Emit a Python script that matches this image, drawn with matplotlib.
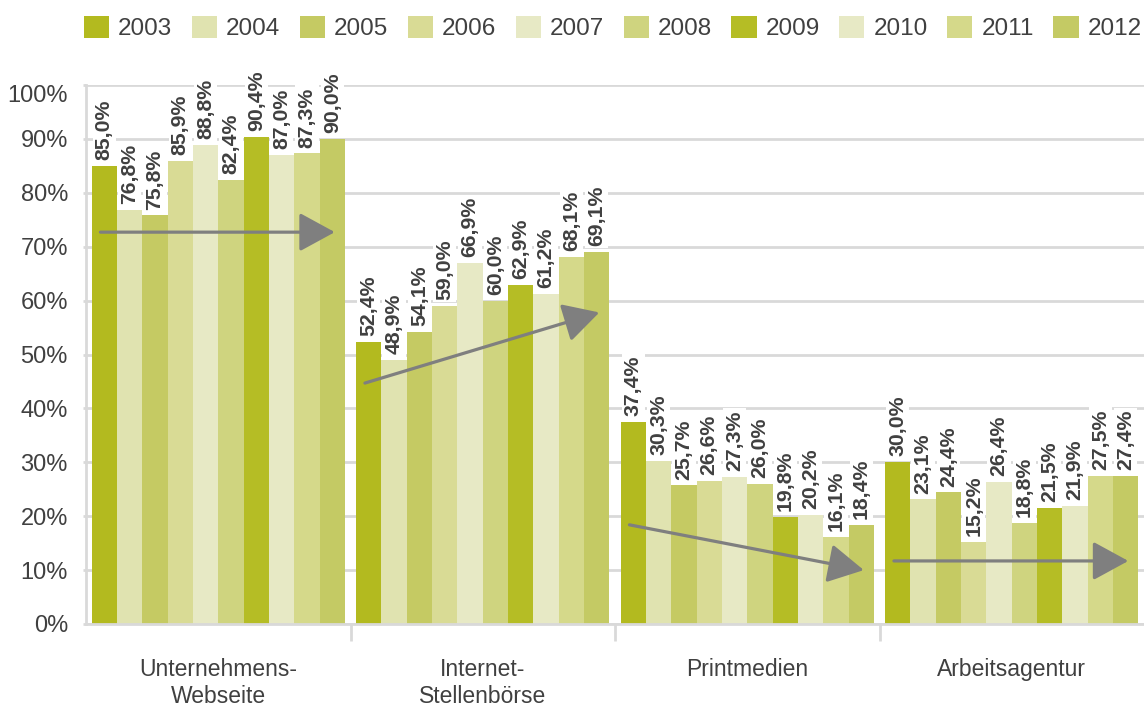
import matplotlib
matplotlib.use("Agg")
import matplotlib.pyplot as plt
import numpy as np

# Kanäle der Stellenausschreibung, Anteil der Unternehmen 2003-2012
categories = ["Unternehmens-\nWebseite", "Internet-\nStellenbörse", "Printmedien", "Arbeitsagentur"]
years = ["2003", "2004", "2005", "2006", "2007", "2008", "2009", "2010", "2011", "2012"]

webseite = [85.0, 76.8, 75.8, 85.9, 88.8, 82.4, 90.4, 87.0, 87.3, 90.0]
stellenboerse = [52.4, 48.9, 54.1, 59.0, 66.9, 60.0, 62.9, 61.2, 68.1, 69.1]
printmedien = [37.4, 30.3, 25.7, 26.6, 27.3, 26.0, 19.8, 20.2, 16.1, 18.4]
arbeitsagentur = [30.0, 23.1, 24.4, 15.2, 26.4, 18.8, 21.5, 21.9, 27.5, 27.4]

# trend arrows per group: value at start / end
trend_start = [72.7, 44.7, 18.4, 11.7]
trend_end = [72.7, 57.8, 10.0, 11.7]

yticks = list(range(0, 101, 10))

colors = ["#b3ba1f", "#e0e3b0", "#c5ca63", "#d9db95", "#e7e9c5",
          "#cfd47f", "#b5bd25", "#e7e9c5", "#d5d98a", "#c4ca64"]

values = np.array([webseite, stellenboerse, printmedien, arbeitsagentur])
textcol = "#404040"
gridcol = "#d9d9d9"

plt.rcParams['font.family'] = ['Liberation Sans', 'DejaVu Sans']

fig = plt.figure(figsize=(11.44, 7.06), dpi=100)
ax = fig.add_axes([86/1144, 1 - 624/706, 1 - 86/1144, 539/706])

n = len(years)
bw = 0.0958
x = np.arange(len(categories))
offsets = (np.arange(n) - (n - 1) / 2) * bw

handles = []
for j in range(n):
    bars = ax.bar(x + offsets[j], values[:, j], width=bw, color=colors[j],
                  label=years[j], zorder=2)
    handles.append(bars)
    for xi, v in zip(x + offsets[j], values[:, j]):
        ax.text(xi, v + 1.1, f"{v:.1f}%".replace(".", ","), rotation=90,
                ha="center", va="bottom", fontsize=15.3, fontweight="bold",
                color=textcol, zorder=3,
                bbox=dict(facecolor="white", edgecolor="none", pad=1.5))

# trend arrows
for i in range(len(categories)):
    x0 = x[i] + offsets[0] - bw * 0.15
    x1 = x[i] + offsets[-1] + bw * 0.1
    ax.annotate("", xy=(x1, trend_end[i]), xytext=(x0, trend_start[i]),
                arrowprops=dict(arrowstyle="-|>,head_length=1.1,head_width=0.6",
                                mutation_scale=20, color="#7f7f7f", lw=2.3,
                                shrinkA=0, shrinkB=0),
                zorder=4)

ax.set_xlim(-0.5, len(categories) - 0.5)
ax.set_ylim(0, 100)
ax.set_yticks(yticks)
# the top label sits a bit lower in the original, drawn separately below
ax.set_yticklabels([f"{v}%" if v < 100 else "" for v in yticks])
ax.annotate(f"{yticks[-1]}%", xy=(0, yticks[-1]),
            xycoords=("axes fraction", "data"), xytext=(-18, -11),
            textcoords="offset pixels", ha="right", va="center",
            fontsize=17, color=textcol)
ax.yaxis.grid(True, color=gridcol, lw=2, zorder=0)
ax.set_axisbelow(True)

ax.set_xticks(np.arange(0.5, len(categories) - 0.5, 1))
ax.set_xticklabels([])
ax.tick_params(axis="x", length=12, width=2, color=gridcol)
ax.tick_params(axis="y", length=2.5, width=2, color=gridcol, labelsize=17,
               labelcolor=textcol, pad=10.5)

for i, c in enumerate(categories):
    ax.text(x[i], -6.3, c, ha="center", va="top", fontsize=16.5, color=textcol,
            linespacing=1.2)

for s in ["top", "right"]:
    ax.spines[s].set_visible(False)
for s in ["left", "bottom"]:
    ax.spines[s].set_color(gridcol)
    ax.spines[s].set_linewidth(2)

fig.legend(handles=handles, loc="upper left", bbox_to_anchor=(68/1144, 1.0),
           ncol=n, frameon=False, fontsize=17.5, labelcolor=textcol,
           handlelength=1.03, handleheight=1.03, handletextpad=0.37,
           columnspacing=0.81, borderaxespad=0.25)

fig.savefig("out.png", dpi=100)
